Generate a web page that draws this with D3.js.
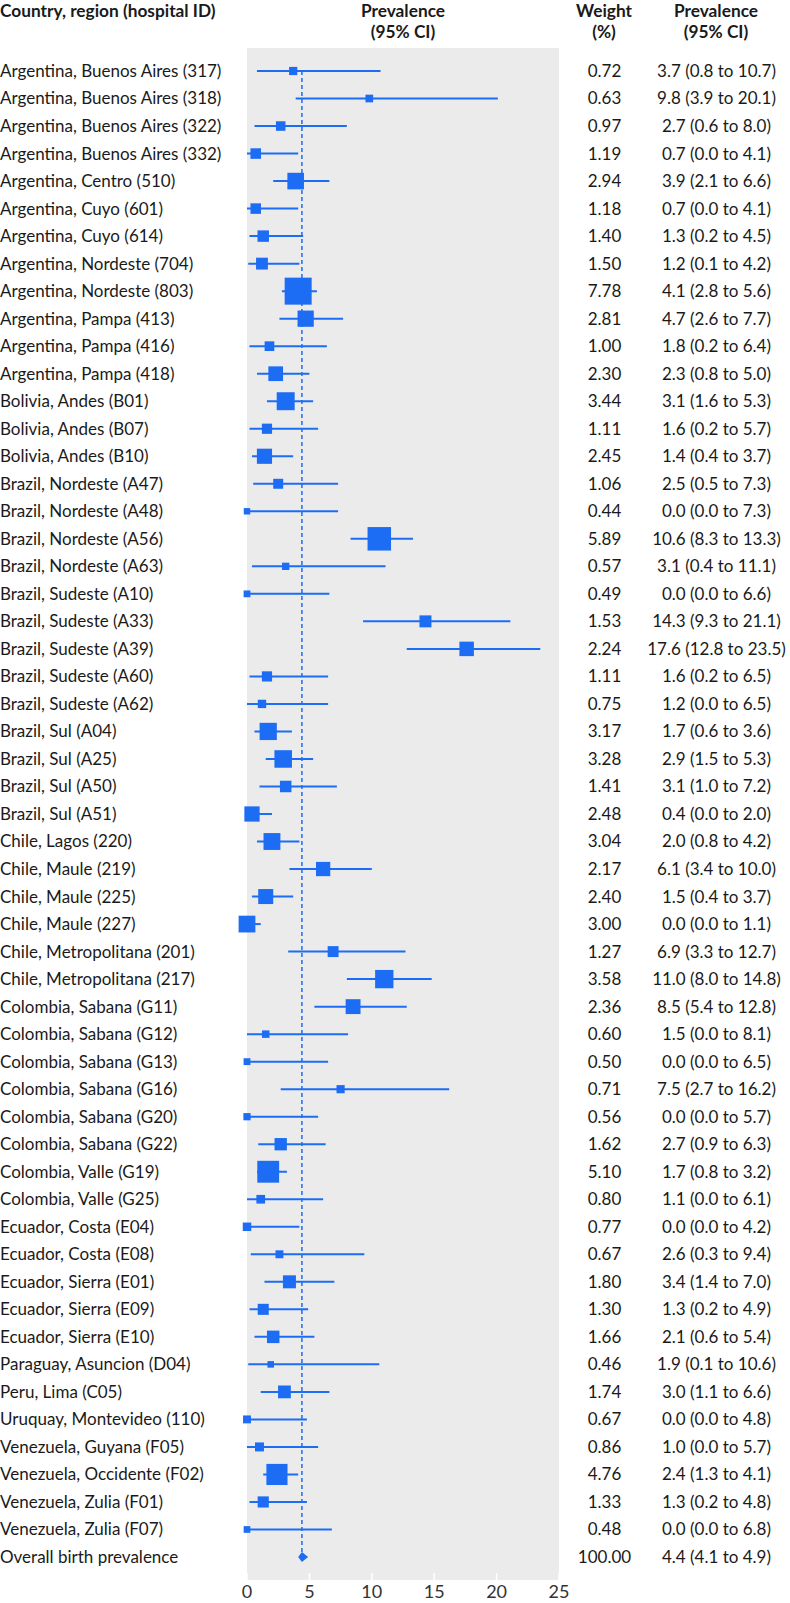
<!DOCTYPE html>
<html>
<head>
<meta charset="utf-8">
<script src="https://cdn.jsdelivr.net/npm/d3@7"></script>
<style>
  body { margin: 0; background: #fff; }
  text { font-family: Lato, "Liberation Sans", sans-serif; fill: #1a1a1a; }
</style>
</head>
<body>
<div id="chart"></div>
<script>
// hospitals, top to bottom
var hospitals = [
  "Argentina, Buenos Aires (317)", "Argentina, Buenos Aires (318)", "Argentina, Buenos Aires (322)",
  "Argentina, Buenos Aires (332)", "Argentina, Centro (510)", "Argentina, Cuyo (601)",
  "Argentina, Cuyo (614)", "Argentina, Nordeste (704)", "Argentina, Nordeste (803)",
  "Argentina, Pampa (413)", "Argentina, Pampa (416)", "Argentina, Pampa (418)",
  "Bolivia, Andes (B01)", "Bolivia, Andes (B07)", "Bolivia, Andes (B10)",
  "Brazil, Nordeste (A47)", "Brazil, Nordeste (A48)", "Brazil, Nordeste (A56)",
  "Brazil, Nordeste (A63)", "Brazil, Sudeste (A10)", "Brazil, Sudeste (A33)",
  "Brazil, Sudeste (A39)", "Brazil, Sudeste (A60)", "Brazil, Sudeste (A62)",
  "Brazil, Sul (A04)", "Brazil, Sul (A25)", "Brazil, Sul (A50)", "Brazil, Sul (A51)",
  "Chile, Lagos (220)", "Chile, Maule (219)", "Chile, Maule (225)", "Chile, Maule (227)",
  "Chile, Metropolitana (201)", "Chile, Metropolitana (217)",
  "Colombia, Sabana (G11)", "Colombia, Sabana (G12)", "Colombia, Sabana (G13)",
  "Colombia, Sabana (G16)", "Colombia, Sabana (G20)", "Colombia, Sabana (G22)",
  "Colombia, Valle (G19)", "Colombia, Valle (G25)",
  "Ecuador, Costa (E04)", "Ecuador, Costa (E08)", "Ecuador, Sierra (E01)",
  "Ecuador, Sierra (E09)", "Ecuador, Sierra (E10)", "Paraguay, Asuncion (D04)",
  "Peru, Lima (C05)", "Uruquay, Montevideo (110)", "Venezuela, Guyana (F05)",
  "Venezuela, Occidente (F02)", "Venezuela, Zulia (F01)", "Venezuela, Zulia (F07)"
];
var weights = [0.72, 0.63, 0.97, 1.19, 2.94, 1.18, 1.40, 1.50, 7.78, 2.81, 1.00, 2.30,
  3.44, 1.11, 2.45, 1.06, 0.44, 5.89, 0.57, 0.49, 1.53, 2.24, 1.11, 0.75,
  3.17, 3.28, 1.41, 2.48, 3.04, 2.17, 2.40, 3.00, 1.27, 3.58,
  2.36, 0.60, 0.50, 0.71, 0.56, 1.62, 5.10, 0.80,
  0.77, 0.67, 1.80, 1.30, 1.66, 0.46, 1.74, 0.67, 0.86, 4.76, 1.33, 0.48];
var prev = [3.7, 9.8, 2.7, 0.7, 3.9, 0.7, 1.3, 1.2, 4.1, 4.7, 1.8, 2.3,
  3.1, 1.6, 1.4, 2.5, 0.0, 10.6, 3.1, 0.0, 14.3, 17.6, 1.6, 1.2,
  1.7, 2.9, 3.1, 0.4, 2.0, 6.1, 1.5, 0.0, 6.9, 11.0,
  8.5, 1.5, 0.0, 7.5, 0.0, 2.7, 1.7, 1.1,
  0.0, 2.6, 3.4, 1.3, 2.1, 1.9, 3.0, 0.0, 1.0, 2.4, 1.3, 0.0];
var lower = [0.8, 3.9, 0.6, 0.0, 2.1, 0.0, 0.2, 0.1, 2.8, 2.6, 0.2, 0.8,
  1.6, 0.2, 0.4, 0.5, 0.0, 8.3, 0.4, 0.0, 9.3, 12.8, 0.2, 0.0,
  0.6, 1.5, 1.0, 0.0, 0.8, 3.4, 0.4, 0.0, 3.3, 8.0,
  5.4, 0.0, 0.0, 2.7, 0.0, 0.9, 0.8, 0.0,
  0.0, 0.3, 1.4, 0.2, 0.6, 0.1, 1.1, 0.0, 0.0, 1.3, 0.2, 0.0];
var upper = [10.7, 20.1, 8.0, 4.1, 6.6, 4.1, 4.5, 4.2, 5.6, 7.7, 6.4, 5.0,
  5.3, 5.7, 3.7, 7.3, 7.3, 13.3, 11.1, 6.6, 21.1, 23.5, 6.5, 6.5,
  3.6, 5.3, 7.2, 2.0, 4.2, 10.0, 3.7, 1.1, 12.7, 14.8,
  12.8, 8.1, 6.5, 16.2, 5.7, 6.3, 3.2, 6.1,
  4.2, 9.4, 7.0, 4.9, 5.4, 10.6, 6.6, 4.8, 5.7, 4.1, 4.8, 6.8];

var overallLabel = "Overall birth prevalence";
var overallWeight = 100.00;
var overall = [4.4, 4.1, 4.9];   // estimate, lower, upper

var xTicks = [0, 5, 10, 15, 20, 25];

var width = 790, height = 1603;
var blue = "#1c6df3";

var svg = d3.select("#chart").append("svg")
    .attr("width", width)
    .attr("height", height);

var x = d3.scaleLinear().domain([0, 25]).range([247, 559]);
var y = d3.scalePoint().domain(d3.range(hospitals.length + 1)).range([71, 1557]);
var side = d3.scaleSqrt().domain([0, 7.78]).range([0, 27]);

var rows = hospitals.map(function (h, i) {
  return { label: h, w: weights[i], est: prev[i], lo: lower[i], hi: upper[i], i: i };
});

function fmt(v) { return v.toFixed(1); }

// grey panel
svg.append("rect")
    .attr("x", x(0)).attr("y", 48)
    .attr("width", x(25) - x(0)).attr("height", 1580 - 48)
    .attr("fill", "#ebebeb");

// little white ticks at the panel bottom
svg.append("g").selectAll("line")
    .data(xTicks)
    .enter().append("line")
    .attr("x1", function (d) { return x(d); })
    .attr("x2", function (d) { return x(d); })
    .attr("y1", 1573).attr("y2", 1580)
    .attr("stroke", "#fff").attr("stroke-width", 1.5);

// axis labels
svg.append("g").selectAll("text")
    .data(xTicks)
    .enter().append("text")
    .attr("x", function (d) { return x(d); })
    .attr("y", 1598)
    .attr("text-anchor", "middle")
    .style("font-size", "18px")
    .style("fill", "#333")
    .text(function (d) { return d; });

// dashed overall line
svg.append("line")
    .attr("x1", x(overall[0])).attr("x2", x(overall[0]))
    .attr("y1", y(0)).attr("y2", y(hospitals.length))
    .attr("stroke", blue).attr("stroke-width", 1.5)
    .attr("stroke-dasharray", "4,3");

// CI lines
svg.append("g").selectAll("line")
    .data(rows)
    .enter().append("line")
    .attr("x1", function (d) { return x(d.lo); })
    .attr("x2", function (d) { return x(d.hi); })
    .attr("y1", function (d) { return y(d.i); })
    .attr("y2", function (d) { return y(d.i); })
    .attr("stroke", blue).attr("stroke-width", 2);

// squares sized by weight
svg.append("g").selectAll("rect")
    .data(rows)
    .enter().append("rect")
    .attr("x", function (d) { return x(d.est) - side(d.w) / 2; })
    .attr("y", function (d) { return y(d.i) - side(d.w) / 2; })
    .attr("width", function (d) { return side(d.w); })
    .attr("height", function (d) { return side(d.w); })
    .attr("fill", blue);

// overall diamond
var oy = y(hospitals.length);
svg.append("path")
    .attr("d", "M" + x(overall[1]) + "," + oy +
               "L" + x(overall[0]) + "," + (oy - 5) +
               "L" + x(overall[2]) + "," + oy +
               "L" + x(overall[0]) + "," + (oy + 5) + "Z")
    .attr("fill", blue);

// headers
var head = svg.append("g").style("font-weight", "bold").style("font-size", "17.3px");
head.append("text").attr("x", 0).attr("y", 17).text("Country, region (hospital ID)");
head.append("text").attr("x", 403).attr("y", 17).attr("text-anchor", "middle").text("Prevalence");
head.append("text").attr("x", 403).attr("y", 38).attr("text-anchor", "middle").text("(95% CI)");
head.append("text").attr("x", 604).attr("y", 17).attr("text-anchor", "middle").text("Weight");
head.append("text").attr("x", 604).attr("y", 38).attr("text-anchor", "middle").text("(%)");
head.append("text").attr("x", 716).attr("y", 17).attr("text-anchor", "middle").text("Prevalence");
head.append("text").attr("x", 716).attr("y", 38).attr("text-anchor", "middle").text("(95% CI)");

// table text
var all = rows.concat([{ label: overallLabel, w: overallWeight, est: overall[0], lo: overall[1], hi: overall[2], i: hospitals.length }]);

var tbl = svg.append("g").style("font-size", "17px");
tbl.selectAll(".lab")
    .data(all)
    .enter().append("text")
    .attr("class", "lab")
    .attr("x", 0)
    .attr("y", function (d) { return y(d.i); })
    .attr("dy", "0.35em")
    .text(function (d) { return d.label; });

tbl.selectAll(".wt")
    .data(all)
    .enter().append("text")
    .attr("class", "wt")
    .attr("x", 604.5)
    .attr("y", function (d) { return y(d.i); })
    .attr("dy", "0.35em")
    .attr("text-anchor", "middle")
    .text(function (d) { return d.w.toFixed(2); });

tbl.selectAll(".ci")
    .data(all)
    .enter().append("text")
    .attr("class", "ci")
    .attr("x", 716.5)
    .attr("y", function (d) { return y(d.i); })
    .attr("dy", "0.35em")
    .attr("text-anchor", "middle")
    .text(function (d) { return fmt(d.est) + " (" + fmt(d.lo) + " to " + fmt(d.hi) + ")"; });
</script>
</body>
</html>
